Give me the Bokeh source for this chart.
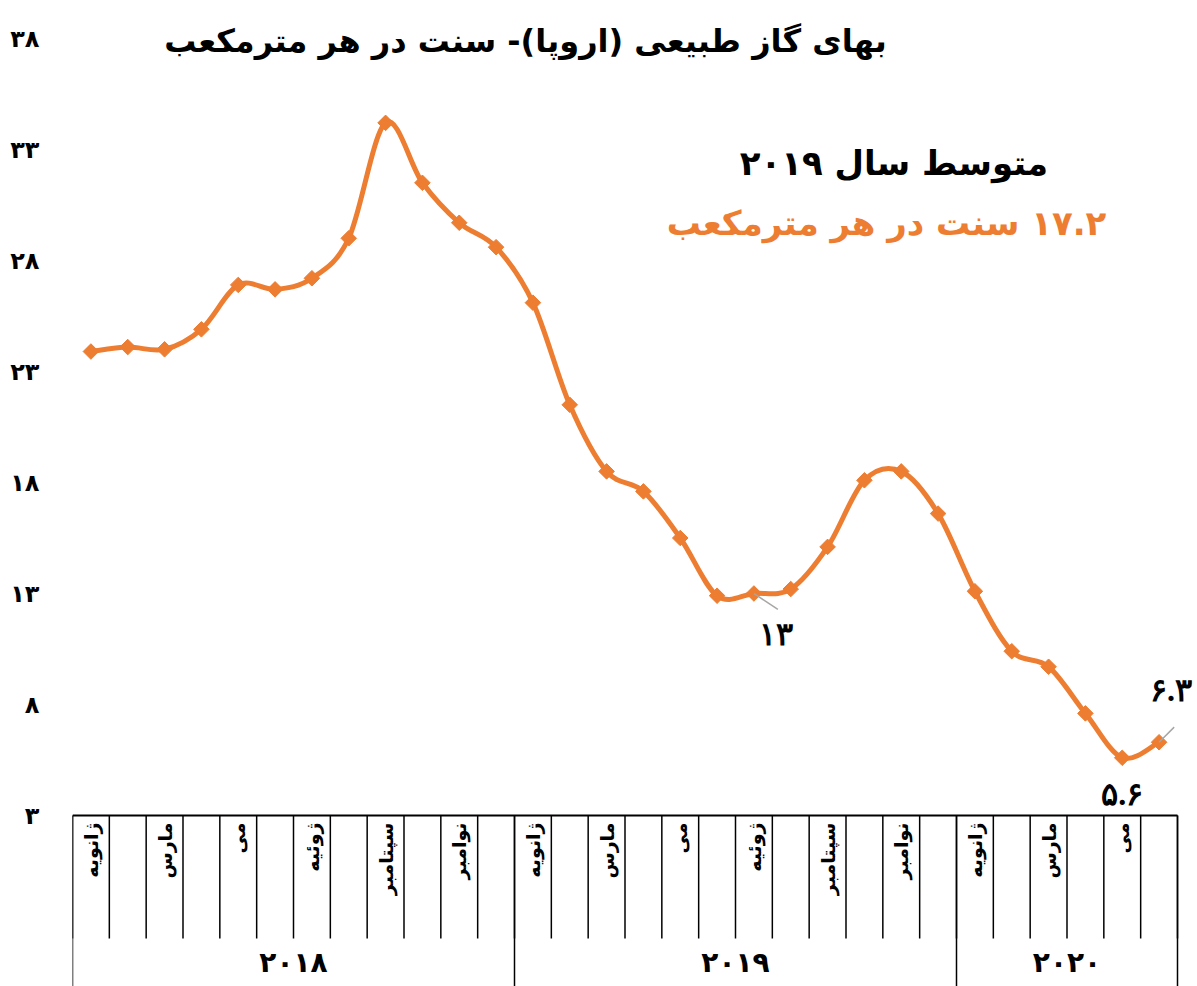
import numpy as np
from bokeh.plotting import figure
from bokeh.models import ColumnDataSource, Range1d, FixedTicker, LabelSet, Label
from bokeh.core.properties import value
from bokeh.embed import file_html
from bokeh.resources import INLINE

# ---------------- data ----------------
years = ["2018", "2019", "2020"]
year_months = [12, 12, 6]
months = ["ژانویه", "فوریه", "مارس", "آوریل", "می", "ژوئن",
          "ژوئیه", "اوت", "سپتامبر", "اکتبر", "نوامبر", "دسامبر"]
price = [23.9, 24.1, 24.0, 24.9, 26.9, 26.7, 27.2, 29.0, 34.2, 31.5, 29.7, 28.6,
         26.1, 21.5, 18.5, 17.6, 15.5, 12.9, 13.0, 13.2, 15.1, 18.1, 18.5, 16.6,
         13.1, 10.4, 9.7, 7.6, 5.6, 6.3]
y_ticks = [3, 8, 13, 18, 23, 28, 33, 38]
avg_2019 = 17.2
labeled_idx = [18, 28, 29]

title_text = "بهای گاز طبیعی (اروپا)- سنت در هر مترمکعب"
avg_title = "متوسط سال 2019"
avg_unit = "سنت در هر مترمکعب"

# ---------------- helpers ----------------
FA = str.maketrans("0123456789", "۰۱۲۳۴۵۶۷۸۹")
RLM = "\u200f"


def fa(s):
    return str(s).translate(FA)


FONT = value("DejaVu Sans")
ORANGE = "#ED7D31"
PX_PER_UNIT = 22.2

n = len(price)
xs = np.arange(n) + 0.5
ys = np.array(price, dtype=float)

y_top = y_ticks[-1] + 38 / PX_PER_UNIT
y_bot = y_ticks[0] - 171 / PX_PER_UNIT
p = figure(width=1197, height=986, output_backend="svg", toolbar_location=None,
           x_range=Range1d(0, n + 20 / 36.83), y_range=Range1d(y_bot, y_top),
           x_axis_location=None, min_border_left=72, min_border_right=0,
           min_border_top=0, min_border_bottom=0, outline_line_color=None,
           background_fill_color="white", border_fill_color="white")
p.xgrid.visible = False
p.ygrid.visible = False

ax = p.yaxis[0]
ax.ticker = FixedTicker(ticks=y_ticks)
ax.major_label_overrides = {t: fa(t) for t in y_ticks}
ax.major_label_text_font = "DejaVu Sans"
ax.major_label_text_font_style = "bold"
ax.major_label_text_font_size = "24px"
ax.major_label_text_color = "black"
ax.axis_line_color = None
ax.major_tick_line_color = None
ax.minor_tick_line_color = None
ax.major_label_standoff = 27

# ---------------- category table below the plot ----------------
y0 = y_ticks[0]
month_row_bottom = y0 - 123 / PX_PER_UNIT
bounds = np.arange(n + 1)
year_bounds = np.concatenate([[0], np.cumsum(year_months)])
p.segment(x0=[0], y0=[y0], x1=[n], y1=[y0], line_color="black", line_width=2)
p.segment(x0=bounds, y0=[y0] * len(bounds), x1=bounds,
          y1=[month_row_bottom] * len(bounds), line_color="black", line_width=1.5)
p.segment(x0=year_bounds, y0=[y0] * len(year_bounds), x1=year_bounds,
          y1=[y_bot] * len(year_bounds), line_color="black", line_width=1.5)

m_lab = []
for yi, cnt in enumerate(year_months):
    for m in range(cnt):
        m_lab.append(months[m] if m % 2 == 0 else "")
p.text(x=xs, y=[y0 - 7 / PX_PER_UNIT] * n, text=m_lab, angle=np.pi / 2,
       text_align="right", text_baseline="middle", text_font=FONT,
       text_font_style="bold", text_font_size="19px", text_color="black")

yc = (year_bounds[:-1] + year_bounds[1:]) / 2
p.text(x=yc, y=[y0 - 147 / PX_PER_UNIT] * len(yc), text=[fa(y) for y in years],
       text_align="center", text_baseline="middle", text_font=FONT,
       text_font_style="bold", text_font_size="28px", text_color="black")

# ---------------- smoothed line (Bezier segments) ----------------
im1 = np.clip(np.arange(n - 1) - 1, 0, n - 1)
i0 = np.arange(n - 1)
i1 = i0 + 1
i2 = np.clip(i0 + 2, 0, n - 1)
cx0 = xs[i0] + (xs[i1] - xs[im1]) / 6
cy0 = ys[i0] + (ys[i1] - ys[im1]) / 6
cx1 = xs[i1] - (xs[i2] - xs[i0]) / 6
cy1 = ys[i1] - (ys[i2] - ys[i0]) / 6
p.bezier(x0=xs[i0], y0=ys[i0], x1=xs[i1], y1=ys[i1], cx0=cx0, cy0=cy0,
         cx1=cx1, cy1=cy1, line_color=ORANGE, line_width=5, line_cap="round")
p.scatter(x=xs, y=ys, marker="square", angle=np.pi / 4, size=11,
          fill_color=ORANGE, line_color=ORANGE)

# ---------------- data labels ----------------
lab_x = xs[labeled_idx]
lab_y = ys[labeled_idx]
lead_dx = [0.65, 0.0, 0.41]
lead_dy = [-0.72, 0.0, 0.68]
p.segment(x0=lab_x, y0=lab_y, x1=lab_x + np.array(lead_dx), y1=lab_y + np.array(lead_dy),
          line_color="#A6A6A6", line_width=1.5)
src = ColumnDataSource(dict(x=lab_x, y=lab_y,
                            t=[fa(f"{v:g}") for v in lab_y],
                            xo=[22, 0, 12], yo=[-40, -36, 52]))
p.add_layout(LabelSet(x="x", y="y", text="t", source=src, x_offset="xo", y_offset="yo",
                      text_align="center", text_baseline="middle",
                      text_font="DejaVu Sans", text_font_style="bold",
                      text_font_size="32px", text_color="black"))

# ---------------- titles / annotation ----------------
p.add_layout(Label(x=12.3, y=37.9, text=title_text, text_align="center",
                   text_baseline="middle", text_font="DejaVu Sans",
                   text_font_style="bold", text_font_size="32px", text_color="black"))
p.add_layout(Label(x=22.3, y=32.4, text=RLM + fa(avg_title), text_align="center",
                   text_baseline="middle", text_font="DejaVu Sans",
                   text_font_style="bold", text_font_size="34px", text_color="black"))
p.add_layout(Label(x=22.1, y=29.7, text=RLM + fa(avg_2019) + " " + avg_unit,
                   text_align="center", text_baseline="middle", text_font="DejaVu Sans",
                   text_font_style="bold", text_font_size="34px", text_color=ORANGE))

open("out.html", "w").write(file_html(p, INLINE))
